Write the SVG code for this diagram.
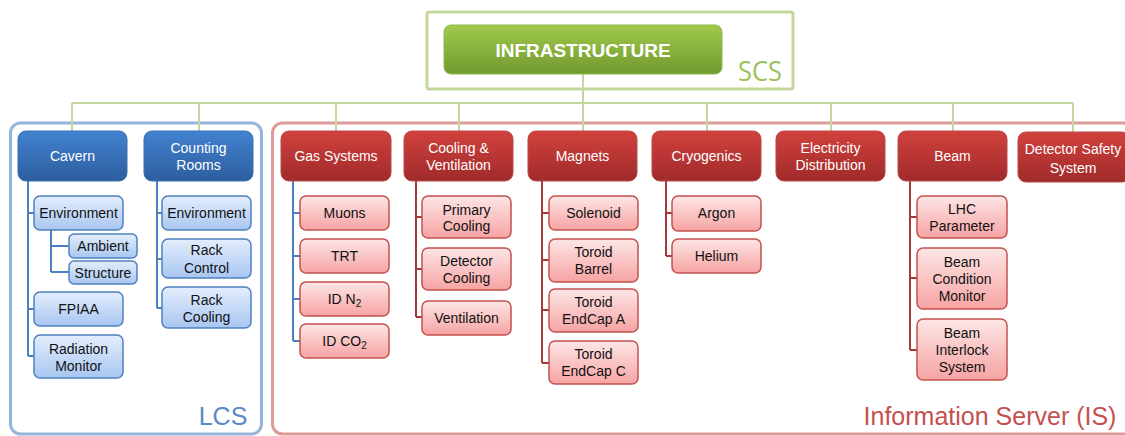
<svg xmlns="http://www.w3.org/2000/svg" width="1125" height="436" viewBox="0 0 1125 436">
<defs>
<linearGradient id="gGreen" x1="0" y1="0" x2="0" y2="1"><stop offset="0" stop-color="#9fca4c"/><stop offset="1" stop-color="#72992f"/></linearGradient>
<linearGradient id="gBlue" x1="0" y1="0" x2="0" y2="1"><stop offset="0" stop-color="#4282d0"/><stop offset="1" stop-color="#2d5e9f"/></linearGradient>
<linearGradient id="gRed" x1="0" y1="0" x2="0" y2="1"><stop offset="0" stop-color="#d1413d"/><stop offset="1" stop-color="#a02b2b"/></linearGradient>
<linearGradient id="gLBlue" x1="0" y1="0" x2="0" y2="1"><stop offset="0" stop-color="#e4eefd"/><stop offset="1" stop-color="#a8c6f1"/></linearGradient>
<linearGradient id="gLRed" x1="0" y1="0" x2="0" y2="1"><stop offset="0" stop-color="#fde6e6"/><stop offset="1" stop-color="#f7a3a3"/></linearGradient>
</defs>
<style>
text{font-family:"Liberation Sans",Arial,sans-serif;font-size:14px;text-anchor:middle}
.pw{fill:#ffffff}
.ck{fill:#111111}
.pb{fill:url(#gBlue);stroke:#3b70b3;stroke-width:1}
.pr{fill:url(#gRed);stroke:#b84a4a;stroke-width:1}
.cb{fill:url(#gLBlue);stroke:#4f81bd;stroke-width:1.5}
.cr{fill:url(#gLRed);stroke:#c4524f;stroke-width:1.5}
.lg{fill:none;stroke:#c4d79c;stroke-width:2}
.lb{fill:none;stroke:#4a7fc1;stroke-width:2}
.lr{fill:none;stroke:#a33a38;stroke-width:2}
.sub{font-size:10px}
</style>

<!-- group frames -->
<rect x="427" y="12" width="366" height="77" rx="2" fill="none" stroke="#c4d89c" stroke-width="3"/>
<text x="760" y="81" style="font-family:'Open Sans','Liberation Sans',sans-serif;font-size:28px;fill:#9dc15a" textLength="44" lengthAdjust="spacingAndGlyphs">SCS</text>
<rect x="10.5" y="123" width="251" height="311" rx="10" fill="none" stroke="#94b4da" stroke-width="3"/>
<text x="223" y="425" style="font-size:25px;fill:#5a8ac6">LCS</text>
<rect x="272.5" y="123" width="870" height="311" rx="10" fill="none" stroke="#de9999" stroke-width="3"/>
<text x="990" y="425" style="font-size:25px;fill:#c4514f">Information Server (IS)</text>

<!-- connectors -->
<g id="connectors">
<path class="lg" d="M583 74V103M72 103H1073M72 103V131M199 103V131M336 103V131M459 103V131M583 103V131M707 103V131M831 103V131M953 103V131M1073 103V132"/>
<path class="lb" d="M28 181V356M28 213H34M28 309H34M28 356H34M51 230V272M51 246H69M51 272H69"/>
<path class="lb" d="M157 181V308M157 213H162M157 259H162M157 308H162"/>
<path class="lb" d="M293 181V341M293 213H300M293 256H300M293 299H300M293 341H300"/>
<path class="lr" d="M416 181V317M416 217H422M416 269H422M416 317H422"/>
<path class="lr" d="M542 181V363M542 213H549M542 260H549M542 310H549M542 363H549"/>
<path class="lr" d="M666 181V256M666 213H672M666 256H672"/>
<path class="lr" d="M910 181V350M910 217H917M910 278H917M910 350H917"/>
</g>

<!-- root -->
<g id="infrastructure"><rect x="444" y="25" width="278" height="49" rx="7" fill="url(#gGreen)" stroke="#8fb948" stroke-width="1"/><text x="583" y="57" class="pw" style="font-size:19px;font-weight:bold">INFRASTRUCTURE</text></g>

<!-- LCS parents -->
<g id="cavern"><rect class="pb" x="18" y="131" width="109" height="50" rx="8"/><text class="pw" x="72.5" y="161">Cavern</text></g>
<g id="counting-rooms"><rect class="pb" x="144" y="131" width="109" height="50" rx="8"/><text class="pw" x="198.5" y="153">Counting</text><text class="pw" x="198.5" y="170">Rooms</text></g>

<!-- LCS children -->
<g id="cavern-environment"><rect class="cb" x="34" y="196" width="89" height="34" rx="6"/><text class="ck" x="78.5" y="218">Environment</text></g>
<g id="ambient"><rect class="cb" x="69" y="234" width="68" height="24" rx="5"/><text class="ck" x="103" y="251">Ambient</text></g>
<g id="structure"><rect class="cb" x="69" y="261" width="68" height="23" rx="5"/><text class="ck" x="103" y="277.5">Structure</text></g>
<g id="fpiaa"><rect class="cb" x="34" y="292" width="89" height="34" rx="6"/><text class="ck" x="78.5" y="314">FPIAA</text></g>
<g id="radiation-monitor"><rect class="cb" x="34" y="335" width="89" height="43" rx="6"/><text class="ck" x="78.5" y="354">Radiation</text><text class="ck" x="78.5" y="371">Monitor</text></g>
<g id="cr-environment"><rect class="cb" x="162" y="196" width="89" height="34" rx="6"/><text class="ck" x="206.5" y="218">Environment</text></g>
<g id="rack-control"><rect class="cb" x="162" y="239" width="89" height="39" rx="6"/><text class="ck" x="206.5" y="255">Rack</text><text class="ck" x="206.5" y="273">Control</text></g>
<g id="rack-cooling"><rect class="cb" x="162" y="287" width="89" height="41" rx="6"/><text class="ck" x="206.5" y="305">Rack</text><text class="ck" x="206.5" y="322">Cooling</text></g>

<!-- IS parents -->
<g id="gas-systems"><rect class="pr" x="281" y="131" width="110" height="50" rx="8"/><text class="pw" x="336" y="161">Gas Systems</text></g>
<g id="cooling-ventilation"><rect class="pr" x="404" y="131" width="109" height="50" rx="8"/><text class="pw" x="458.5" y="153">Cooling &amp;</text><text class="pw" x="458.5" y="170">Ventilation</text></g>
<g id="magnets"><rect class="pr" x="528" y="131" width="109" height="50" rx="8"/><text class="pw" x="582.5" y="161">Magnets</text></g>
<g id="cryogenics"><rect class="pr" x="652" y="131" width="109" height="50" rx="8"/><text class="pw" x="706.5" y="161">Cryogenics</text></g>
<g id="electricity-distribution"><rect class="pr" x="776" y="131" width="109" height="50" rx="8"/><text class="pw" x="830.5" y="153">Electricity</text><text class="pw" x="830.5" y="170">Distribution</text></g>
<g id="beam"><rect class="pr" x="898" y="131" width="109" height="50" rx="8"/><text class="pw" x="952.5" y="161">Beam</text></g>
<g id="detector-safety-system"><rect class="pr" x="1018" y="132" width="112" height="50" rx="8"/><text class="pw" x="1073" y="154">Detector Safety</text><text class="pw" x="1073" y="173">System</text></g>

<!-- IS children -->
<g id="muons"><rect class="cr" x="300" y="196" width="89" height="34" rx="6"/><text class="ck" x="344.5" y="218">Muons</text></g>
<g id="trt"><rect class="cr" x="300" y="239" width="89" height="34" rx="6"/><text class="ck" x="344.5" y="261">TRT</text></g>
<g id="id-n2"><rect class="cr" x="300" y="282" width="89" height="34" rx="6"/><text class="ck" x="344.5" y="304">ID N<tspan class="sub" dy="3">2</tspan></text></g>
<g id="id-co2"><rect class="cr" x="300" y="324" width="89" height="34" rx="6"/><text class="ck" x="344.5" y="346">ID CO<tspan class="sub" dy="3">2</tspan></text></g>
<g id="primary-cooling"><rect class="cr" x="422" y="196" width="89" height="42" rx="6"/><text class="ck" x="466.5" y="215">Primary</text><text class="ck" x="466.5" y="231">Cooling</text></g>
<g id="detector-cooling"><rect class="cr" x="422" y="248" width="89" height="42" rx="6"/><text class="ck" x="466.5" y="266">Detector</text><text class="ck" x="466.5" y="283">Cooling</text></g>
<g id="ventilation"><rect class="cr" x="422" y="301" width="89" height="34" rx="6"/><text class="ck" x="466.5" y="323">Ventilation</text></g>
<g id="solenoid"><rect class="cr" x="549" y="196" width="89" height="34" rx="6"/><text class="ck" x="593.5" y="218">Solenoid</text></g>
<g id="toroid-barrel"><rect class="cr" x="549" y="239" width="89" height="43" rx="6"/><text class="ck" x="593.5" y="257">Toroid</text><text class="ck" x="593.5" y="274">Barrel</text></g>
<g id="toroid-endcap-a"><rect class="cr" x="549" y="289" width="89" height="43" rx="6"/><text class="ck" x="593.5" y="307">Toroid</text><text class="ck" x="593.5" y="324">EndCap A</text></g>
<g id="toroid-endcap-c"><rect class="cr" x="549" y="341" width="89" height="43" rx="6"/><text class="ck" x="593.5" y="359">Toroid</text><text class="ck" x="593.5" y="376">EndCap C</text></g>
<g id="argon"><rect class="cr" x="672" y="196" width="89" height="35" rx="6"/><text class="ck" x="716.5" y="218">Argon</text></g>
<g id="helium"><rect class="cr" x="672" y="239" width="89" height="34" rx="6"/><text class="ck" x="716.5" y="261">Helium</text></g>
<g id="lhc-parameter"><rect class="cr" x="917" y="196" width="90" height="42" rx="6"/><text class="ck" x="962" y="214">LHC</text><text class="ck" x="962" y="231">Parameter</text></g>
<g id="beam-condition-monitor"><rect class="cr" x="917" y="248" width="90" height="61" rx="6"/><text class="ck" x="962" y="267">Beam</text><text class="ck" x="962" y="284">Condition</text><text class="ck" x="962" y="301">Monitor</text></g>
<g id="beam-interlock-system"><rect class="cr" x="917" y="319" width="90" height="61" rx="6"/><text class="ck" x="962" y="338">Beam</text><text class="ck" x="962" y="355">Interlock</text><text class="ck" x="962" y="372">System</text></g>
</svg>
